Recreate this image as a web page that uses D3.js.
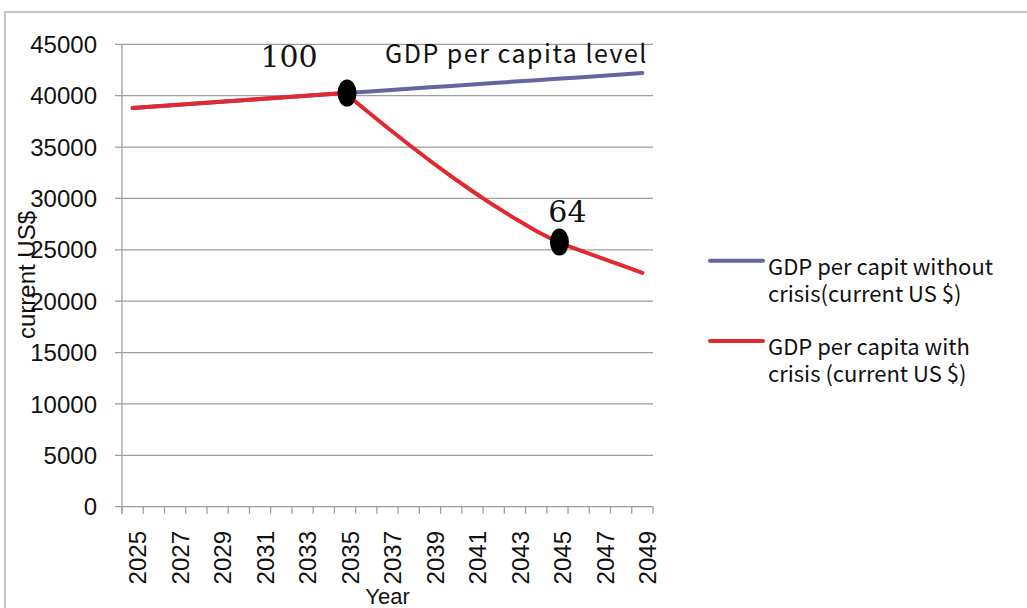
<!DOCTYPE html>
<html>
<head>
<meta charset="utf-8">
<script src="https://cdn.jsdelivr.net/npm/d3@7/dist/d3.min.js"></script>
<style>
  html, body { margin: 0; padding: 0; background: #fff; }
  svg { display: block; }
</style>
</head>
<body>
<svg id="chart" width="1027" height="608"></svg>
<script>
// Years on the category axis
const years = d3.range(2025, 2050);

// GDP per capita, no crisis (current US $)
const withoutCrisis = [
  38800, 38950, 39090, 39240, 39380, 39530, 39670, 39820, 39960, 40110,
  40250, 40390, 40530, 40670, 40810, 40950, 41090, 41230, 41370, 41500,
  41640, 41780, 41920, 42060, 42200
];

// GDP per capita with crisis (current US $)
const withCrisis = [
  38800, 38950, 39090, 39240, 39380, 39530, 39670, 39820, 39960, 40110,
  40250, 38550, 36880, 35250, 33670, 32150, 30700, 29330, 28040, 26840,
  25750, 25000, 24250, 23500, 22750
];

// Y axis ticks
const yTicks = d3.range(0, 45001, 5000);

// Years with a printed label (every other one)
const labelYears = years.filter((y, i) => i % 2 === 0);

// Marked points on the crisis path and their level index (2035 = 100)
const markedYears = [2035, 2045];

const seriesNames = [
  ["GDP per capit without", "crisis(current US $)"],
  ["GDP per capita with", "crisis (current US $)"]
];
const seriesColors = ["#6465a2", "#e2292f"];

const svg = d3.select("#chart");
const sansFont = "'Liberation Sans', Arial, sans-serif";
const gothicFont = "'Noto Sans CJK JP', 'Noto Sans', sans-serif";

// Outer frame
svg.append("path")
  .attr("d", "M5,620 V12 H1040")
  .attr("fill", "none")
  .attr("stroke", "#c4c4c4")
  .attr("stroke-width", 2);

const plot = { left: 122, right: 653, top: 44.3, bottom: 506.7 };

const x = d3.scaleBand().domain(years).range([plot.left, plot.right]).padding(0);
const y = d3.scaleLinear().domain([0, 45000]).range([plot.bottom, plot.top]);
const cx = yr => x(yr) + x.bandwidth() / 2;

// Horizontal gridlines with left tick stubs
svg.append("g").selectAll("line").data(yTicks).join("line")
  .attr("x1", plot.left - 7).attr("x2", plot.right)
  .attr("y1", d => y(d)).attr("y2", d => y(d))
  .attr("stroke", "#9e9e9e").attr("stroke-width", 1.3);

// Y tick labels
svg.append("g").selectAll("text").data(yTicks).join("text")
  .attr("x", 97).attr("y", d => y(d)).attr("dy", "0.36em")
  .attr("text-anchor", "end")
  .attr("font-family", sansFont).attr("font-size", 24).attr("fill", "#111")
  .text(d => d);

// Vertical axis line
svg.append("line")
  .attr("x1", plot.left).attr("x2", plot.left)
  .attr("y1", plot.top).attr("y2", plot.bottom + 7)
  .attr("stroke", "#9e9e9e").attr("stroke-width", 1.3);

// Category tick marks at band edges
const edges = years.map(yr => x(yr)).concat([plot.right]);
svg.append("g").selectAll("line").data(edges).join("line")
  .attr("x1", d => d).attr("x2", d => d)
  .attr("y1", plot.bottom).attr("y2", plot.bottom + 7)
  .attr("stroke", "#9e9e9e").attr("stroke-width", 1.3);

// Rotated year labels
svg.append("g").selectAll("text").data(labelYears).join("text")
  .attr("transform", d => `translate(${cx(d) + 5},531) rotate(-90)`)
  .attr("text-anchor", "end").attr("dy", "0.36em")
  .attr("font-family", sansFont).attr("font-size", 24).attr("fill", "#111")
  .text(d => d);

// Axis titles
svg.append("text")
  .attr("x", (plot.left + plot.right) / 2).attr("y", 604)
  .attr("text-anchor", "middle")
  .attr("font-family", sansFont).attr("font-size", 22).attr("fill", "#111")
  .text("Year");

svg.append("text")
  .attr("transform", "translate(35,275) rotate(-90)")
  .attr("text-anchor", "middle")
  .attr("font-family", sansFont).attr("font-size", 24).attr("fill", "#111")
  .text("current US$");

// Lines
const line = d3.line().x((d, i) => cx(years[i])).y(d => y(d));
[withoutCrisis, withCrisis].forEach((vals, k) => {
  svg.append("path")
    .datum(vals)
    .attr("d", line)
    .attr("fill", "none")
    .attr("stroke", seriesColors[k])
    .attr("stroke-width", 4)
    .attr("stroke-linejoin", "round")
    .attr("stroke-linecap", "round");
});

// Black markers on the crisis path
const valueAt = yr => withCrisis[years.indexOf(yr)];
svg.append("g").selectAll("ellipse").data(markedYears).join("ellipse")
  .attr("cx", d => cx(d) + 2).attr("cy", d => y(valueAt(d)))
  .attr("rx", 9.5).attr("ry", 13.5)
  .attr("fill", "#000");

// Level index labels relative to the first marked year
const base = valueAt(markedYears[0]);
const labelOffsets = [[-56, -26], [10, -20]];
svg.append("g").selectAll("text").data(markedYears).join("text")
  .attr("x", (d, i) => cx(d) + labelOffsets[i][0])
  .attr("y", (d, i) => y(valueAt(d)) + labelOffsets[i][1])
  .attr("text-anchor", "middle")
  .attr("font-family", "'DejaVu Serif', serif").attr("font-size", 30).attr("fill", "#111")
  .text(d => Math.round(valueAt(d) / base * 100));

// Chart heading
svg.append("text")
  .attr("x", 385).attr("y", 63)
  .attr("font-family", gothicFont).attr("font-size", 25).attr("fill", "#111")
  .attr("letter-spacing", 1.5)
  .text("GDP per capita level");

// Legend
const legend = svg.append("g");
const legendRows = [260.7, 341];
seriesNames.forEach((lines, k) => {
  const ly = legendRows[k];
  legend.append("line")
    .attr("x1", 710).attr("x2", 763).attr("y1", ly).attr("y2", ly)
    .attr("stroke", seriesColors[k]).attr("stroke-width", 4)
    .attr("stroke-linecap", "round");
  lines.forEach((t, j) => {
    legend.append("text")
      .attr("x", 768).attr("y", ly + 14 + j * 27)
      .attr("font-family", gothicFont).attr("font-size", 22).attr("fill", "#111")
      .text(t);
  });
});
</script>
</body>
</html>
